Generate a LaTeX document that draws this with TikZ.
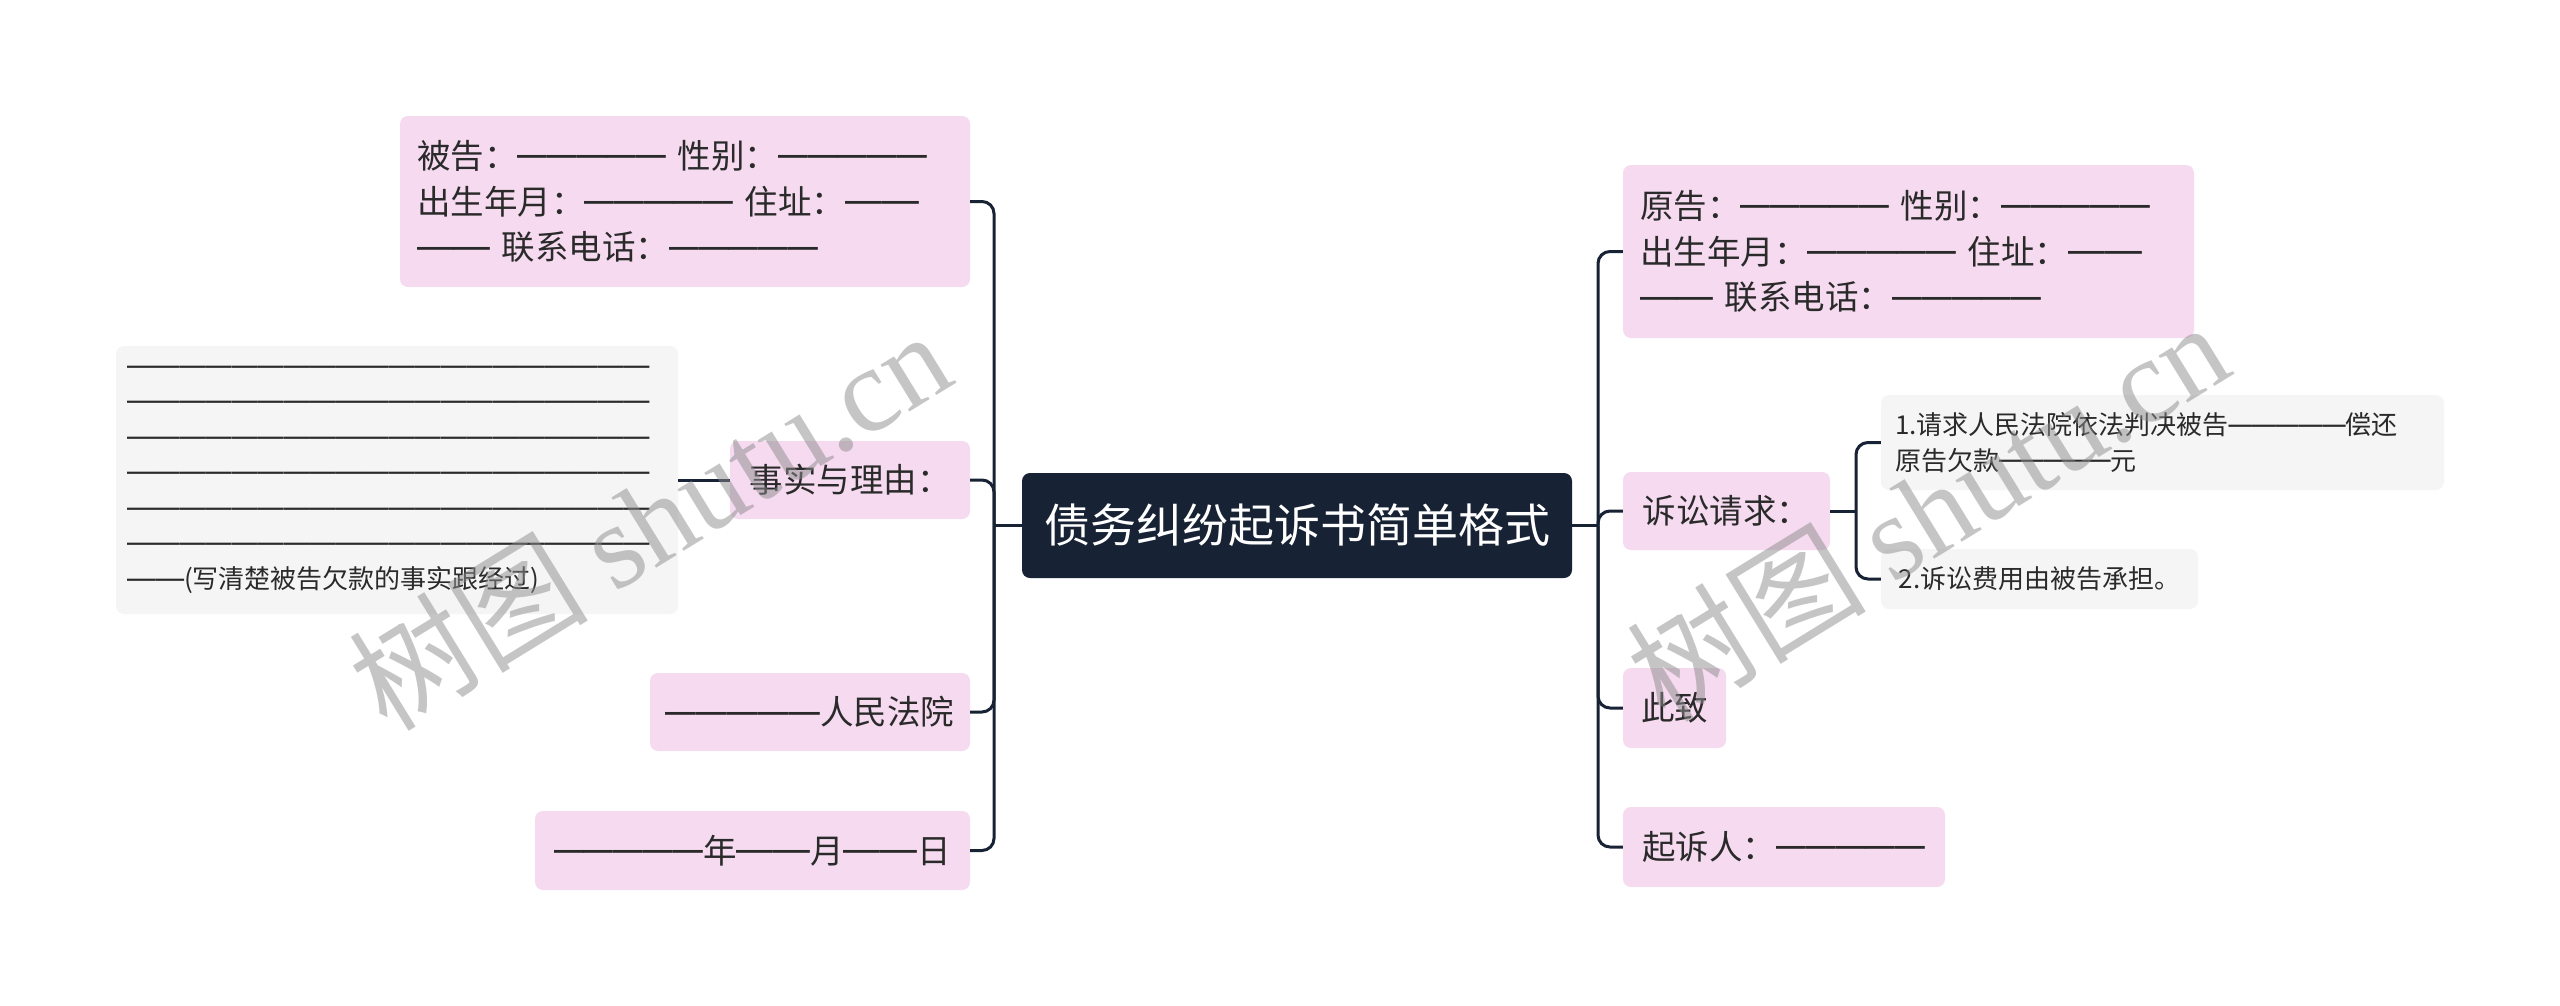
\documentclass[tikz,border=0pt]{standalone}
\usepackage{fontspec}
\usepackage{graphicx}
\setmainfont{Noto Sans CJK SC}
\newfontfamily\wmserif{Liberation Serif}
\newfontfamily\dashf{Liberation Sans}
\definecolor{pinkc}{HTML}{F5DAF0}
\definecolor{grayc}{HTML}{F5F5F5}
\definecolor{navyc}{HTML}{172234}
\definecolor{txtc}{HTML}{2A2A2A}
\newcommand\DR[2]{\raisebox{0.02em}{\resizebox{#1em}{1.25\height}{\dashf #2}}}
\tikzset{
  pinkbox/.style={fill=pinkc, rounded corners=8pt, text=txtc, inner sep=0pt,
    font=\fontsize{33.5}{45.7}\selectfont},
  graybox/.style={fill=grayc, rounded corners=8pt, text=txtc, inner sep=0pt,
    font=\fontsize{26}{35.5}\selectfont},
  centralbox/.style={fill=navyc, rounded corners=8pt, text=white, inner sep=0pt,
    font=\fontsize{46}{55}\selectfont},
  conn/.style={draw=navyc, line width=3pt, rounded corners=12pt},
  wm/.style={text=black!45, text opacity=0.5, font=\fontsize{120}{120}\selectfont, rotate=31.6}
}
\begin{document}
\begin{tikzpicture}[x=1pt,y=-1pt]
\useasboundingbox (0,0) rectangle (2560,1005);
\fill[white] (0,0) rectangle (2560,1005);

% central
\node[centralbox, minimum width=550pt, minimum height=105pt] (C) at (1297,525.5) {债务纠纷起诉书简单格式};

% left side
\node[pinkbox, text width=536pt, inner xsep=17pt, minimum height=171pt, align=left] (BG) at (685,201.5)
  {被告：\DR{4.45}{—————} 性别：\DR{4.45}{—————}\\出生年月：\DR{4.45}{—————} 住址：\DR{2.2}{——}\\\DR{2.2}{——} 联系电话：\DR{4.45}{—————}};
\node[pinkbox, minimum width=240pt, minimum height=78pt] (SS) at (850,480) {事实与理由：};
\node[graybox, text width=540pt, inner xsep=11pt, minimum height=268pt, align=left] (GR) at (397,480)
  {\DR{20.1}{————————————————————}\\\DR{20.1}{————————————————————}\\\DR{20.1}{————————————————————}\\\DR{20.1}{————————————————————}\\\DR{20.1}{————————————————————}\\\DR{20.1}{————————————————————}\\\DR{2.2}{——}(写清楚被告欠款的事实跟经过)};
\node[pinkbox, minimum width=320pt, minimum height=78pt] (RM) at (810,712) {\DR{4.6}{—————}人民法院};
\node[pinkbox, minimum width=435pt, minimum height=79pt] (NYR) at (752.5,850.5) {\DR{4.45}{—————}年\DR{2.2}{——}月\DR{2.2}{——}日};

% right side
\node[pinkbox, text width=537pt, inner xsep=17pt, minimum height=173pt, align=left] (YG) at (1908.5,251.5)
  {原告：\DR{4.45}{—————} 性别：\DR{4.45}{—————}\\出生年月：\DR{4.45}{—————} 住址：\DR{2.2}{——}\\\DR{2.2}{——} 联系电话：\DR{4.45}{—————}};
\node[pinkbox, minimum width=207pt, minimum height=78pt] (SQ) at (1726.5,511) {诉讼请求：};
\node[pinkbox, minimum width=103pt, minimum height=80pt] (CZ) at (1674.5,708) {此致};
\node[pinkbox, minimum width=322pt, minimum height=80pt] (QSR) at (1784,847) {起诉人：\DR{4.45}{—————}};
\node[graybox, text width=535pt, inner xsep=14pt, minimum height=95pt, align=left] (I1) at (2162.5,442.5)
  {1.请求人民法院依法判决被告\DR{4.5}{—————}偿还\\原告欠款\DR{4.3}{—————}元};
\node[graybox, minimum width=317pt, minimum height=60pt] (I2) at (2039.5,579) {2.诉讼费用由被告承担。};

% connectors
\coordinate (LJ) at (994,525.5);
\coordinate (RJ) at (1598,525.5);
\coordinate (SJ) at (1856,511);
\draw[conn] (C.west) -- (LJ);
\draw[conn] (LJ) |- (BG.east);
\draw[conn] (LJ) |- (SS.east);
\draw[conn] (LJ) |- (RM.east);
\draw[conn] (LJ) |- (NYR.east);
\draw[conn] (SS.west) -- (GR.east);
\draw[conn] (C.east) -- (RJ);
\draw[conn] (RJ) |- (YG.west);
\draw[conn] (RJ) |- (SQ.west);
\draw[conn] (RJ) |- (CZ.west);
\draw[conn] (RJ) |- (QSR.west);
\draw[conn] (SQ.east) -- (SJ);
\draw[conn] (SJ) |- (I1.west);
\draw[conn] (SJ) |- (I2.west);

% watermark
\node[wm] (W1) at (649,519) {树图 {\wmserif shutu.cn}};
\node[wm] (W2) at (1927,510) {树图 {\wmserif shutu.cn}};
\end{tikzpicture}
\end{document}
